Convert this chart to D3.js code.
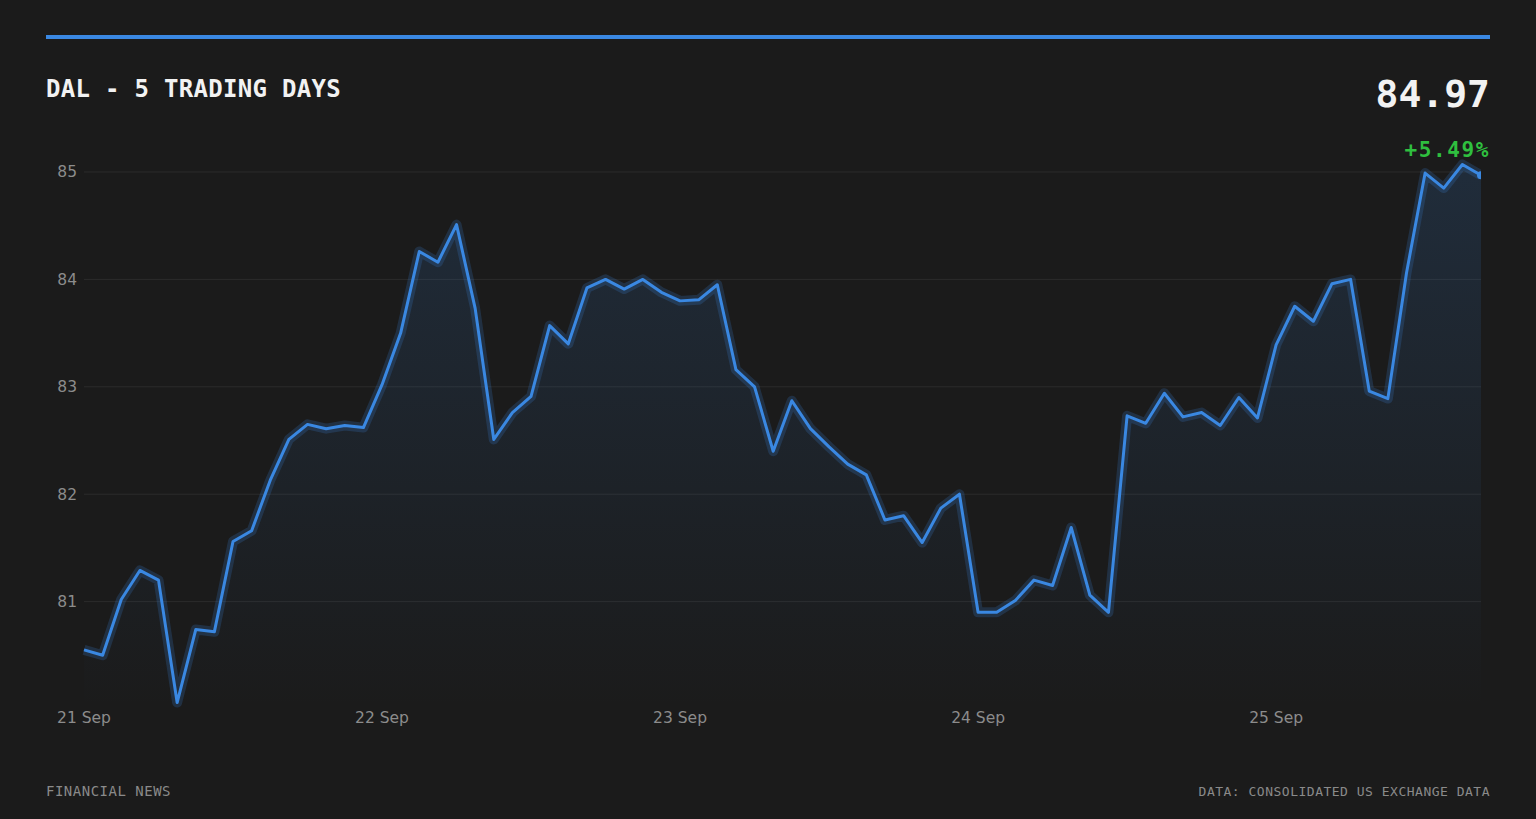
<!DOCTYPE html>
<html>
<head>
<meta charset="utf-8">
<title>DAL - 5 Trading Days</title>
<script src="https://d3js.org/d3.v7.min.js"></script>
<style>
  html, body { margin: 0; padding: 0; background: #1b1b1b; }
  svg { display: block; }
  .mono { font-family: "DejaVu Sans Mono", monospace; }
  .axis-label { font-family: "DejaVu Sans", sans-serif; font-size: 15.5px; fill: #8c8c8c; }
</style>
</head>
<body>
<svg id="chart" width="1536" height="819"></svg>
<script>
// DAL price, one point every 90 minutes over 5 sessions
const prices = [
  80.55, 80.50, 81.02, 81.29, 81.20, 80.06, 80.74, 80.72, 81.56, 81.66,
  82.13, 82.51, 82.65, 82.61, 82.64, 82.62, 83.02, 83.50, 84.26, 84.16,
  84.51, 83.73, 82.51, 82.76, 82.91, 83.57, 83.40, 83.92, 84.00, 83.91,
  84.00, 83.88, 83.80, 83.81, 83.95, 83.16, 83.00, 82.40, 82.87, 82.61,
  82.44, 82.28, 82.18, 81.76, 81.80, 81.55, 81.87, 82.00, 80.90, 80.90,
  81.01, 81.20, 81.15, 81.69, 81.06, 80.90, 82.73, 82.66, 82.94, 82.72,
  82.76, 82.64, 82.90, 82.71, 83.39, 83.75, 83.61, 83.96, 84.00, 82.96,
  82.89, 84.06, 84.99, 84.85, 85.07, 84.97
];
const dayLabels = ['21 Sep', '22 Sep', '23 Sep', '24 Sep', '25 Sep'];
const dayStartIndex = [0, 16, 32, 48, 64];
const yTicks = [81, 82, 83, 84, 85];

const ticker = 'DAL';
const titleText = ticker + ' - 5 TRADING DAYS';
const sourceText = 'DATA: CONSOLIDATED US EXCHANGE DATA';
const brandText = 'FINANCIAL NEWS';

const blue = '#3a88e2';
const green = '#2fbf3f';

const svg = d3.select('#chart');
const plot = { left: 84, right: 1481, top: 163.4, bottom: 709 };

const x = d3.scaleLinear().domain([0, prices.length - 1]).range([plot.left, plot.right]);
const y = d3.scaleLinear().domain([80, 85.08]).range([plot.bottom, plot.top]);

// top accent bar
svg.append('rect')
  .attr('x', 46).attr('y', 35).attr('width', 1444).attr('height', 4)
  .attr('fill', blue);

// title + last price
svg.append('text').attr('class', 'mono')
  .attr('x', 46).attr('y', 97)
  .attr('font-size', 24).attr('font-weight', 'bold')
  .attr('letter-spacing', 0.3)
  .attr('fill', '#f2f2f2')
  .text(titleText);

const last = prices[prices.length - 1];
const first = prices[0];
const pct = (last - first) / first * 100;

svg.append('text').attr('class', 'mono')
  .attr('x', 1490).attr('y', 107)
  .attr('text-anchor', 'end')
  .attr('font-size', 38).attr('font-weight', 'bold')
  .attr('fill', '#f2f2f2')
  .text(last.toFixed(2));

svg.append('text').attr('class', 'mono')
  .attr('x', 1490).attr('y', 157)
  .attr('text-anchor', 'end')
  .attr('font-size', 21).attr('font-weight', 'bold')
  .attr('letter-spacing', 1.6)
  .attr('fill', green)
  .text((pct >= 0 ? '+' : '') + pct.toFixed(2) + '%');

// gridlines + y labels
const yAxis = svg.append('g');
yAxis.selectAll('line').data(yTicks).enter().append('line')
  .attr('x1', plot.left).attr('x2', plot.right)
  .attr('y1', d => y(d)).attr('y2', d => y(d))
  .attr('stroke', '#2c2c2c').attr('stroke-width', 1);
yAxis.selectAll('text').data(yTicks).enter().append('text')
  .attr('class', 'axis-label')
  .attr('x', 77).attr('y', d => y(d))
  .attr('dy', '0.35em')
  .attr('text-anchor', 'end')
  .text(d => d);

// x labels
svg.append('g').selectAll('text').data(dayStartIndex).enter().append('text')
  .attr('class', 'axis-label')
  .attr('x', d => x(d)).attr('y', 723)
  .attr('text-anchor', 'middle')
  .text((d, i) => dayLabels[i]);

// area + line
const defs = svg.append('defs');
const grad = defs.append('linearGradient')
  .attr('id', 'areaGrad')
  .attr('gradientUnits', 'userSpaceOnUse')
  .attr('x1', 0).attr('x2', 0)
  .attr('y1', plot.top).attr('y2', plot.bottom);
grad.append('stop').attr('offset', '0%').attr('stop-color', blue).attr('stop-opacity', 0.16);
grad.append('stop').attr('offset', '100%').attr('stop-color', blue).attr('stop-opacity', 0.0);

defs.append('clipPath').attr('id', 'plotClip')
  .append('rect')
  .attr('x', plot.left - 10).attr('y', 0)
  .attr('width', plot.right - plot.left + 10).attr('height', plot.bottom);

const area = d3.area()
  .x((d, i) => x(i))
  .y0(plot.bottom)
  .y1(d => y(d));

const line = d3.line()
  .x((d, i) => x(i))
  .y(d => y(d));

const g = svg.append('g').attr('clip-path', 'url(#plotClip)');

g.append('path').datum(prices)
  .attr('d', area)
  .attr('fill', 'url(#areaGrad)');

// soft glow under the line
g.append('path').datum(prices)
  .attr('d', line)
  .attr('fill', 'none')
  .attr('stroke', blue).attr('stroke-opacity', 0.2)
  .attr('stroke-width', 10)
  .attr('stroke-linejoin', 'round');

g.append('path').datum(prices)
  .attr('d', line)
  .attr('fill', 'none')
  .attr('stroke', blue)
  .attr('stroke-width', 3)
  .attr('stroke-linejoin', 'round');

g.append('circle')
  .attr('cx', x(prices.length - 1)).attr('cy', y(last))
  .attr('r', 4).attr('fill', blue);

// footer
svg.append('text').attr('class', 'mono')
  .attr('x', 46).attr('y', 796)
  .attr('font-size', 14).attr('letter-spacing', 0.5)
  .attr('fill', '#8a8a8a')
  .text(brandText);

svg.append('text').attr('class', 'mono')
  .attr('x', 1490).attr('y', 796)
  .attr('text-anchor', 'end')
  .attr('font-size', 13).attr('letter-spacing', 0.5)
  .attr('fill', '#8a8a8a')
  .text(sourceText);
</script>
</body>
</html>
